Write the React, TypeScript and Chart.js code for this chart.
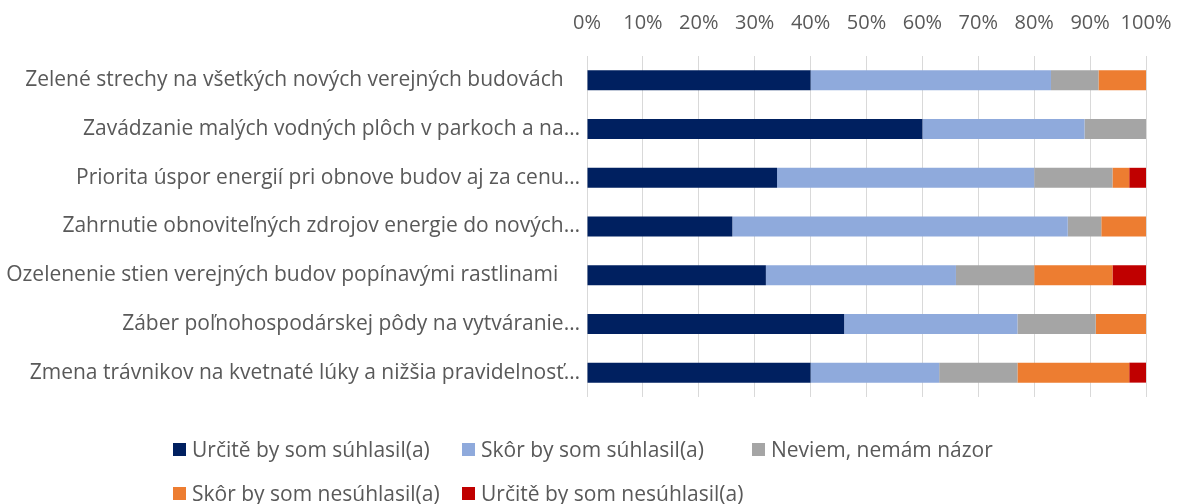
import React, { useEffect, useRef } from "react";
import { Chart, registerables } from "chart.js";

Chart.register(...registerables);

const categories = [
  "Zelené strechy na všetkých nových verejných budovách   ",
  "Zavádzanie malých vodných plôch v parkoch a na…",
  "Priorita úspor energií pri obnove budov aj za cenu…",
  "Zahrnutie obnoviteľných zdrojov energie do nových…",
  "Ozelenenie stien verejných budov popínavými rastlinami    ",
  "Záber poľnohospodárskej pôdy na vytváranie…",
  "Zmena trávnikov na kvetnaté lúky a nižšia pravidelnosť…",
];

const seriesNames = [
  "Určitě by som súhlasil(a)",
  "Skôr by som súhlasil(a)",
  "Neviem, nemám názor",
  "Skôr by som nesúhlasil(a)",
  "Určitě by som nesúhlasil(a)",
];

const urciteSuhlasil = [40, 60, 34, 26, 32, 46, 40];
const skorSuhlasil = [43, 29, 46, 60, 34, 31, 23];
const neviem = [8.5, 11, 14, 6, 14, 14, 14];
const skorNesuhlasil = [8.5, 0, 3, 8, 14, 9, 20];
const urciteNesuhlasil = [0, 0, 3, 0, 6, 0, 3];

const xTicks = [0, 10, 20, 30, 40, 50, 60, 70, 80, 90, 100];

const seriesValues = [urciteSuhlasil, skorSuhlasil, neviem, skorNesuhlasil, urciteNesuhlasil];
const seriesColors = ["#002060", "#8FAADC", "#A5A5A5", "#ED7D31", "#C00000"];

const FONT = "'Open Sans', Lato, sans-serif";
const TEXT = "#595959";

const legendLayout = [
  { x: 173, y: 449 },
  { x: 462, y: 449 },
  { x: 752, y: 449 },
  { x: 173, y: 493 },
  { x: 462, y: 493 },
];

export default function App() {
  const ref = useRef<HTMLCanvasElement | null>(null);

  useEffect(() => {
    if (!ref.current) return;
    const chart = new Chart(ref.current, {
      type: "bar",
      data: {
        labels: categories,
        datasets: seriesNames.map((name, i) => ({
          label: name,
          data: seriesValues[i],
          backgroundColor: seriesColors[i],
          borderWidth: 0,
          barPercentage: 0.41,
          categoryPercentage: 1,
        })),
      },
      options: {
        indexAxis: "y",
        responsive: false,
        animation: false,
        layout: { padding: { top: 8, right: 34, bottom: 107, left: 0 } },
        plugins: {
          legend: { display: false },
          tooltip: { enabled: false },
        },
        scales: {
          x: {
            position: "top",
            stacked: true,
            min: 0,
            max: 100,
            afterBuildTicks: (scale: any) => {
              scale.ticks = xTicks.map((v) => ({ value: v }));
            },
            afterFit: (scale: any) => {
              scale.height = 48;
              scale.paddingLeft = 0;
              scale.paddingRight = 0;
            },
            ticks: {
              callback: (v: any) => v + "%",
              color: TEXT,
              font: { family: FONT, size: 20 },
              padding: 21,
              maxRotation: 0,
              autoSkip: false,
            },
            grid: { color: "#D9D9D9", lineWidth: 1, drawTicks: false },
            border: { display: false },
          },
          y: {
            stacked: true,
            afterFit: (scale: any) => {
              scale.width = 587;
              scale.paddingTop = 0;
              scale.paddingBottom = 0;
            },
            ticks: {
              color: TEXT,
              font: { family: FONT, size: 21 },
              padding: 7,
              autoSkip: false,
            },
            grid: { display: false, drawTicks: false },
            border: { display: false },
          },
        },
      },
    });
    return () => chart.destroy();
  }, []);

  return (
    <div style={{ position: "absolute", left: 0, top: 0, width: 1180, height: 504, background: "#fff" }}>
      <canvas ref={ref} width={1180} height={504} style={{ display: "block" }} />
      {seriesNames.map((name, i) => (
        <div
          key={name}
          style={{
            position: "absolute",
            left: legendLayout[i].x,
            top: legendLayout[i].y - 14,
            height: 28,
            display: "flex",
            alignItems: "center",
            fontFamily: FONT,
            fontSize: 21,
            color: TEXT,
            whiteSpace: "pre",
            lineHeight: "28px",
          }}
        >
          <span style={{ display: "inline-block", width: 13, height: 13, background: seriesColors[i], marginRight: 6 }} />
          <span>{name}</span>
        </div>
      ))}
    </div>
  );
}
